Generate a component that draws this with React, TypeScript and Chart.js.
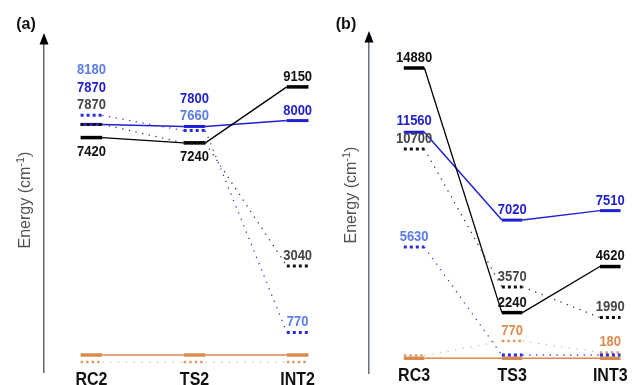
import React, { useEffect, useRef } from 'react';
import { Chart, registerables } from 'chart.js';

Chart.register(...registerables);

// ---------- data ----------
const categoriesA = ['RC2', 'TS2', 'INT2'];
const categoriesB = ['RC3', 'TS3', 'INT3'];

// Panel (a) energies, cm-1
const blackSolidA = [7420, 7240, 9150];
const blueSolidA = [7870, 7800, 8000];
const blackDottedA = [7870, 7240, 3040];
const blueDottedA = [8180, 7660, 770];
const orangeSolidA = [0, 0, 0];
const orangeDottedA = [-240, -240, -240];

// Panel (b) energies, cm-1
const blackSolidB = [14880, 2240, 4620];
const blueSolidB = [11560, 7020, 7510];
const blackDottedB = [10700, 3570, 1990];
const blueDottedB = [5630, 50, 50];
const orangeSolidB = [-120, -120, -120];
const orangeDottedB = [20, 770, 180];

// which values carry a printed label
const labelsBlackSolidA = ['below', 'below', 'above'];
const labelsBlueSolidA = ['above', 'above', 'above'];
const labelsBlackDottedA = ['above', null, 'above'];
const labelsBlueDottedA = ['above', 'above', 'above'];
const labelsNone = [null, null, null];

const labelsBlackSolidB = ['above', 'above', 'above'];
const labelsBlueSolidB = ['above', 'above', 'above'];
const labelsBlackDottedB = ['above', 'above', 'above'];
const labelsBlueDottedB = ['above', null, null];
const labelsOrangeDottedB = [null, 'above', 'above'];

const yRangeA = [-580, 10614];
const yRangeB = [-880, 16223];

// ---------- styles ----------
const HALF = 0.105;
const FONT = '"Liberation Sans", Arial, Helvetica, sans-serif';

type Sty = {
  color: string; connColor: string; labelColor: string;
  barWidth: number; connWidth: number; barDash: number[]; connDash: number[];
};

const ST: Record<string, Sty> = {
  blackSolid: { color: '#000000', connColor: '#000000', labelColor: '#111111', barWidth: 3.5, connWidth: 1.3, barDash: [], connDash: [] },
  blueSolid: { color: '#1f1fd6', connColor: '#2020d8', labelColor: '#1f1fd0', barWidth: 3, connWidth: 1.5, barDash: [], connDash: [] },
  blackDotted: { color: '#111111', connColor: '#3a3a3a', labelColor: '#454545', barWidth: 3, connWidth: 1.3, barDash: [3, 3], connDash: [1.3, 5.5] },
  blueDotted: { color: '#2a2ae0', connColor: '#3a3ae0', labelColor: '#5c7ce6', barWidth: 3, connWidth: 1.3, barDash: [3, 3], connDash: [1.3, 5.5] },
  orangeSolid: { color: '#d98b4f', connColor: '#d98b4f', labelColor: '#e08a50', barWidth: 3.5, connWidth: 1.5, barDash: [], connDash: [] },
  orangeDotted: { color: '#dc9a68', connColor: '#e6b38e', labelColor: '#e08a50', barWidth: 2.5, connWidth: 1.3, barDash: [2.5, 3], connDash: [1.3, 6.5] },
};

function toPoints(values: number[]) {
  const pts: { x: number; y: number }[] = [];
  values.forEach((v, i) => {
    pts.push({ x: i - HALF, y: v });
    pts.push({ x: i + HALF, y: v });
  });
  return pts;
}

function makeDataset(values: number[], s: Sty, modes: (string | null)[]) {
  return {
    data: toPoints(values),
    borderColor: s.color,
    borderWidth: s.connWidth,
    pointRadius: 0,
    pointHoverRadius: 0,
    tension: 0,
    fill: false,
    borderCapStyle: 'butt',
    segment: {
      borderWidth: (c: any) => (c.p0DataIndex % 2 === 0 ? s.barWidth : s.connWidth),
      borderDash: (c: any) => (c.p0DataIndex % 2 === 0 ? s.barDash : s.connDash),
      borderColor: (c: any) => (c.p0DataIndex % 2 === 0 ? s.color : s.connColor),
    },
    energyValues: values,
    labelModes: modes,
    labelColor: s.labelColor,
  };
}

function drawText(ctx: CanvasRenderingContext2D, text: string, x: number, y: number, font: string, color: string, sy = 1) {
  ctx.save();
  ctx.font = font;
  ctx.fillStyle = color;
  ctx.textAlign = 'center';
  ctx.textBaseline = 'middle';
  ctx.translate(x, y);
  ctx.scale(1, sy);
  ctx.fillText(text, 0, 0);
  ctx.restore();
}

const energyPlugin = {
  id: 'energy',
  afterDatasetsDraw(chart: any, _args: any, opts: any) {
    const { ctx, chartArea: ca, scales } = chart;
    const xs = scales.x;
    const ys = scales.y;

    // arrow on y axis
    const ax = ca.left;
    ctx.save();
    ctx.fillStyle = '#000';
    ctx.beginPath();
    ctx.moveTo(ax, ca.top - 11);
    ctx.lineTo(ax - 4.5, ca.top + 0.5);
    ctx.lineTo(ax + 4.5, ca.top + 0.5);
    ctx.closePath();
    ctx.fill();
    ctx.restore();

    // panel label
    drawText(ctx, opts.panelLabel, opts.panelLabelX, opts.panelLabelY, `bold 16px ${FONT}`, '#111');

    // axis title with superscript
    ctx.save();
    ctx.translate(ca.left - opts.titleDx, opts.titleY);
    ctx.rotate(-Math.PI / 2);
    ctx.fillStyle = '#505050';
    ctx.textBaseline = 'alphabetic';
    ctx.textAlign = 'left';
    const mainF = `16px ${FONT}`;
    const supF = `11px ${FONT}`;
    ctx.font = mainF;
    const wMain = ctx.measureText('Energy (cm').width;
    const wClose = ctx.measureText(')').width;
    ctx.font = supF;
    const wSup = ctx.measureText('-1').width;
    const total = wMain + wSup + wClose;
    let cx = -total / 2;
    const base = 4;
    ctx.font = mainF;
    ctx.fillText('Energy (cm', cx, base);
    cx += wMain;
    ctx.font = supF;
    ctx.fillText('-1', cx, base - 6);
    cx += wSup;
    ctx.font = mainF;
    ctx.fillText(')', cx, base);
    ctx.restore();

    // category labels
    opts.categories.forEach((c: string, i: number) => {
      drawText(ctx, c, xs.getPixelForValue(i), opts.catY, `bold 16px ${FONT}`, '#111', 1.15);
    });

    // value labels
    const datasets = chart.data.datasets;
    const vFont = `bold 13px ${FONT}`;
    for (let i = 0; i < opts.categories.length; i++) {
      const bars: number[] = [];
      const above: any[] = [];
      const below: any[] = [];
      datasets.forEach((d: any) => {
        const v = d.energyValues[i];
        const py = ys.getPixelForValue(v);
        bars.push(py);
        const m = d.labelModes[i];
        if (m === 'above') above.push({ py, text: String(v), color: d.labelColor });
        if (m === 'below') below.push({ py, text: String(v), color: d.labelColor });
      });
      above.sort((a, b) => b.py - a.py);
      let prev = Infinity;
      above.forEach((l) => {
        let top = l.py;
        let changed = true;
        while (changed) {
          changed = false;
          for (const b of bars) {
            if (b < top && top - b < 12) { top = b; changed = true; }
          }
        }
        const cy = Math.min(top - 10, prev - 17.5);
        prev = cy;
        drawText(ctx, l.text, xs.getPixelForValue(i), cy, vFont, l.color, 1.1);
      });
      below.forEach((l) => {
        drawText(ctx, l.text, xs.getPixelForValue(i), l.py + 14, vFont, l.color, 1.1);
      });
    }
  },
};

function buildConfig(p: any) {
  return {
    type: 'line',
    data: { datasets: p.datasets },
    options: {
      animation: false,
      responsive: false,
      devicePixelRatio: 1,
      layout: { padding: { top: p.top, right: 10, bottom: 385 - p.bottom, left: 0 } },
      scales: {
        x: { type: 'linear', display: false, min: -0.46, max: 2.12 },
        y: {
          type: 'linear',
          min: p.yRange[0],
          max: p.yRange[1],
          display: true,
          grid: { display: false, drawTicks: false },
          ticks: { display: false },
          border: { display: true, color: p.axisColor, width: 1.5 },
          afterFit: (s: any) => { s.width = p.axisLeft; },
        },
      },
      plugins: {
        legend: { display: false },
        tooltip: { enabled: false },
        energy: {
          panelLabel: p.panelLabel,
          panelLabelX: p.panelLabelX,
          panelLabelY: 25,
          titleDx: p.titleDx,
          titleY: p.titleY,
          categories: p.categories,
          catY: p.catY,
        },
      },
    },
    plugins: [energyPlugin],
  };
}

function Panel({ width, config }: { width: number; config: any }) {
  const ref = useRef<HTMLCanvasElement>(null);
  useEffect(() => {
    const chart = new Chart(ref.current as HTMLCanvasElement, config as any);
    return () => chart.destroy();
  }, []);
  return <canvas ref={ref} width={width} height={385} style={{ display: 'block', width, height: 385 }} />;
}

export default function App() {
  const configA = buildConfig({
    datasets: [
      makeDataset(blackDottedA, ST.blackDotted, labelsBlackDottedA),
      makeDataset(blackSolidA, ST.blackSolid, labelsBlackSolidA),
      makeDataset(blueSolidA, ST.blueSolid, labelsBlueSolidA),
      makeDataset(blueDottedA, ST.blueDotted, labelsBlueDottedA),
      makeDataset(orangeSolidA, ST.orangeSolid, labelsNone),
      makeDataset(orangeDottedA, ST.orangeDotted, labelsNone),
    ],
    top: 44, bottom: 372, yRange: yRangeA, axisColor: '#666666', axisLeft: 44,
    panelLabel: '(a)', panelLabelX: 26, titleDx: 18.5, titleY: 200,
    categories: categoriesA, catY: 380,
  });
  const configB = buildConfig({
    datasets: [
      makeDataset(blackDottedB, ST.blackDotted, labelsBlackDottedB),
      makeDataset(blackSolidB, ST.blackSolid, labelsBlackSolidB),
      makeDataset(blueSolidB, ST.blueSolid, labelsBlueSolidB),
      makeDataset(blueDottedB, ST.blueDotted, labelsBlueDottedB),
      makeDataset(orangeDottedB, ST.orangeDotted, labelsOrangeDottedB),
      makeDataset(orangeSolidB, ST.orangeSolid, labelsNone),
    ],
    top: 42, bottom: 373, yRange: yRangeB, axisColor: '#6a6f8a', axisLeft: 49,
    panelLabel: '(b)', panelLabelX: 26, titleDx: 17.5, titleY: 195,
    categories: categoriesB, catY: 376,
  });
  return (
    <div style={{ position: 'absolute', left: 0, top: 0, width: 632, height: 385, background: '#fff', display: 'flex' }}>
      <Panel width={320} config={configA} />
      <Panel width={312} config={configB} />
    </div>
  );
}
